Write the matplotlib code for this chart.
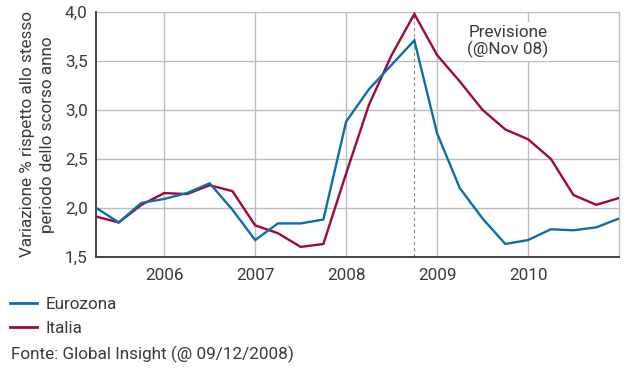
import matplotlib.pyplot as plt
from matplotlib.lines import Line2D

plt.rcParams["font.family"] = ["Roboto", "DejaVu Sans"]
plt.rcParams["font.weight"] = "normal"

# quarterly observations, 2005 Q2 .. 2010 Q4 (forecast from Nov 08 on)
quarters = [2005.25 + 0.25 * i for i in range(24)]
eurozona = [2.00, 1.85, 2.05, 2.09, 2.15, 2.25, 1.98, 1.67, 1.84, 1.84, 1.88, 2.88,
            3.21, 3.46, 3.71, 2.76, 2.20, 1.89, 1.63, 1.67, 1.78, 1.77, 1.80, 1.89]
italia = [1.91, 1.85, 2.03, 2.15, 2.14, 2.23, 2.17, 1.82, 1.74, 1.60, 1.63, 2.35,
          3.05, 3.56, 3.98, 3.56, 3.29, 3.00, 2.80, 2.70, 2.50, 2.13, 2.03, 2.10]
year_ticks = [2006, 2007, 2008, 2009, 2010]
y_ticks = [1.5, 2.0, 2.5, 3.0, 3.5, 4.0]
forecast_start = 2008.75

BLUE = "#0B6FAE"
RED = "#A1073D"
GRID = "#BDBDBD"
TEXT = "#3A3A3A"
FS = 12.3

fig = plt.figure(figsize=(6.26, 3.69), dpi=100)
ax = fig.add_axes([96 / 626, 1 - 256.7 / 369, (619 - 96) / 626, (256.7 - 12) / 369])

ax.plot(quarters, eurozona, color=BLUE, lw=1.7, zorder=4, solid_joinstyle="miter")
ax.plot(quarters, italia, color=RED, lw=1.7, zorder=3, solid_joinstyle="miter")
ax.axvline(forecast_start, color="#8C8C8C", lw=0.8, ls=(0, (3, 2.5)), zorder=2)

ax.set_xlim(2005.25, 2011.0)
ax.set_ylim(1.5, 4.0)
ax.set_xticks(year_ticks)
ax.set_xticklabels([str(y) for y in year_ticks])
ax.set_yticks(y_ticks)
ax.set_yticklabels([f"{v:.1f}".replace(".", ",") for v in y_ticks])
ax.tick_params(length=0, labelsize=FS, colors=TEXT, pad=6)
ax.tick_params(axis="x", pad=8)
ax.grid(True, color=GRID, lw=1.0, zorder=0)
ax.set_axisbelow(True)

ax.spines["right"].set_color(GRID)
ax.spines["right"].set_linewidth(1.0)
ax.spines["top"].set_visible(False)
for side in ("left", "bottom"):
    ax.spines[side].set_color("#444444")
    ax.spines[side].set_linewidth(1.4)

ax.set_ylabel("Variazione % rispetto allo stesso\nperiodo dello scorso anno",
              fontsize=FS, color=TEXT, labelpad=7, linespacing=1.45)

ax.text(2009.78, 3.7, "Previsione\n(@Nov 08)", ha="center", va="center",
        fontsize=FS, color=TEXT, linespacing=1.05, zorder=5,
        bbox=dict(boxstyle="square,pad=0.2", fc="white", ec="none"))

# legend and source below the plot
handles = [Line2D([], [], color=BLUE, lw=2), Line2D([], [], color=RED, lw=2)]
leg = fig.legend(handles, ["Eurozona", "Italia"], loc="upper left",
                 bbox_to_anchor=(10 / 626, 1 - 297 / 369), frameon=False,
                 fontsize=FS, handlelength=1.6, handletextpad=0.5,
                 labelspacing=0.55, borderaxespad=0, borderpad=0)
for t in leg.get_texts():
    t.set_color(TEXT)
fig.text(11 / 626, 1 - 354 / 369, "Fonte: Global Insight (@ 09/12/2008)",
         fontsize=FS, color=TEXT, va="center")

fig.savefig("out.png", dpi=100)
